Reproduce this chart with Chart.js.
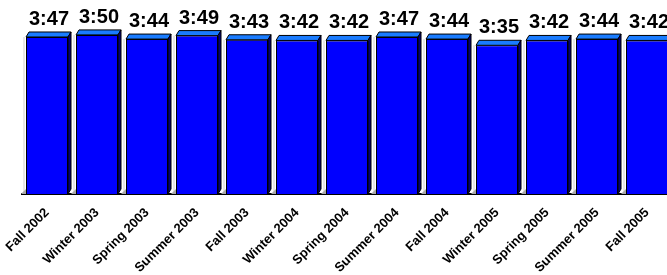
<!DOCTYPE html>
<html>
<head>
<meta charset="utf-8">
<script src="https://cdn.jsdelivr.net/npm/chart.js@4"></script>
<style>
  html, body { margin: 0; padding: 0; background: #fff; overflow: hidden; }
  #wrap { width: 680px; height: 275px; }
</style>
</head>
<body>
<div id="wrap"><canvas id="chart" width="672" height="275"></canvas></div>
<script>
// Terms and average times (seconds)
const terms = ['Fall 2002', 'Winter 2003', 'Spring 2003', 'Summer 2003', 'Fall 2003', 'Winter 2004',
  'Spring 2004', 'Summer 2004', 'Fall 2004', 'Winter 2005', 'Spring 2005', 'Summer 2005', 'Fall 2005'];
const timeLabels = ['3:47', '3:50', '3:44', '3:49', '3:43', '3:42', '3:42', '3:47', '3:44', '3:35', '3:42', '3:44', '3:42'];
const seconds = timeLabels.map(t => {
    const p = t.split(':');
    return parseInt(p[0]) * 60 + parseInt(p[1]);
});

const DX = 3, DY = 5;

// fake 3D faces + value labels
const bar3d = {
    id: 'bar3d',
    beforeDatasetsDraw(chart) {
        const ctx = chart.ctx;
        chart.getDatasetMeta(0).data.forEach(bar => {
            const l = bar.x - bar.width / 2;
            const base = bar.base;
            ctx.save();
            ctx.fillStyle = '#e6e6e6';
            ctx.fillRect(l - 3, bar.y, 2, base - bar.y);
            ctx.fillStyle = '#a8a8a8';
            ctx.beginPath();
            ctx.moveTo(l - 5, base);
            ctx.lineTo(l, base - DY);
            ctx.lineTo(l, base);
            ctx.closePath();
            ctx.fill();
            ctx.restore();
        });
    },
    afterDatasetsDraw(chart) {
        const ctx = chart.ctx;
        chart.getDatasetMeta(0).data.forEach((bar, i) => {
            const l = bar.x - bar.width / 2;
            const r = bar.x + bar.width / 2;
            const y = bar.y, base = bar.base;
            ctx.save();
            ctx.strokeStyle = '#000';
            ctx.lineWidth = 1;
            ctx.lineJoin = 'round';
            // top
            ctx.beginPath();
            ctx.moveTo(l, y);
            ctx.lineTo(l + DX, y - DY);
            ctx.lineTo(r + DX, y - DY);
            ctx.lineTo(r, y);
            ctx.closePath();
            ctx.fillStyle = '#1a7cff';
            ctx.fill();
            ctx.stroke();
            // side
            ctx.beginPath();
            ctx.moveTo(r, y);
            ctx.lineTo(r + DX, y - DY);
            ctx.lineTo(r + DX, base - DY);
            ctx.lineTo(r, base);
            ctx.closePath();
            ctx.fillStyle = '#00007a';
            ctx.fill();
            ctx.stroke();
            // value
            ctx.fillStyle = '#000';
            ctx.font = 'bold 20px "Liberation Sans", Arial, sans-serif';
            ctx.textAlign = 'center';
            ctx.textBaseline = 'alphabetic';
            ctx.fillText(timeLabels[i], bar.x + 2, y - DY - 7);
            ctx.restore();
        });
    }
};

new Chart(document.getElementById('chart'), {
    type: 'bar',
    data: {
        labels: terms,
        datasets: [{
            data: seconds,
            backgroundColor: '#0000ff',
            borderColor: '#000',
            borderWidth: 1,
            barPercentage: 0.84,
            categoryPercentage: 1
        }]
    },
    options: {
        responsive: false,
        animation: false,
        layout: { padding: { left: 22, right: 0, top: 28, bottom: 0 } },
        plugins: {
            legend: { display: false },
            tooltip: { enabled: false }
        },
        scales: {
            x: {
                grid: { display: false, drawTicks: false },
                border: { display: true, color: '#000', width: 2 },
                ticks: {
                    color: '#000',
                    font: { family: '"Liberation Sans", Arial, sans-serif', size: 13, weight: 'bold' },
                    minRotation: 45,
                    maxRotation: 45,
                    autoSkip: false,
                    padding: 11
                },
                afterFit(axis) {
                    axis.height = 81;
                    axis.paddingLeft = 0;
                    axis.paddingRight = 0;
                }
            },
            y: {
                display: false,
                min: 0,
                max: 240
            }
        }
    },
    plugins: [bar3d]
});
</script>
</body>
</html>
